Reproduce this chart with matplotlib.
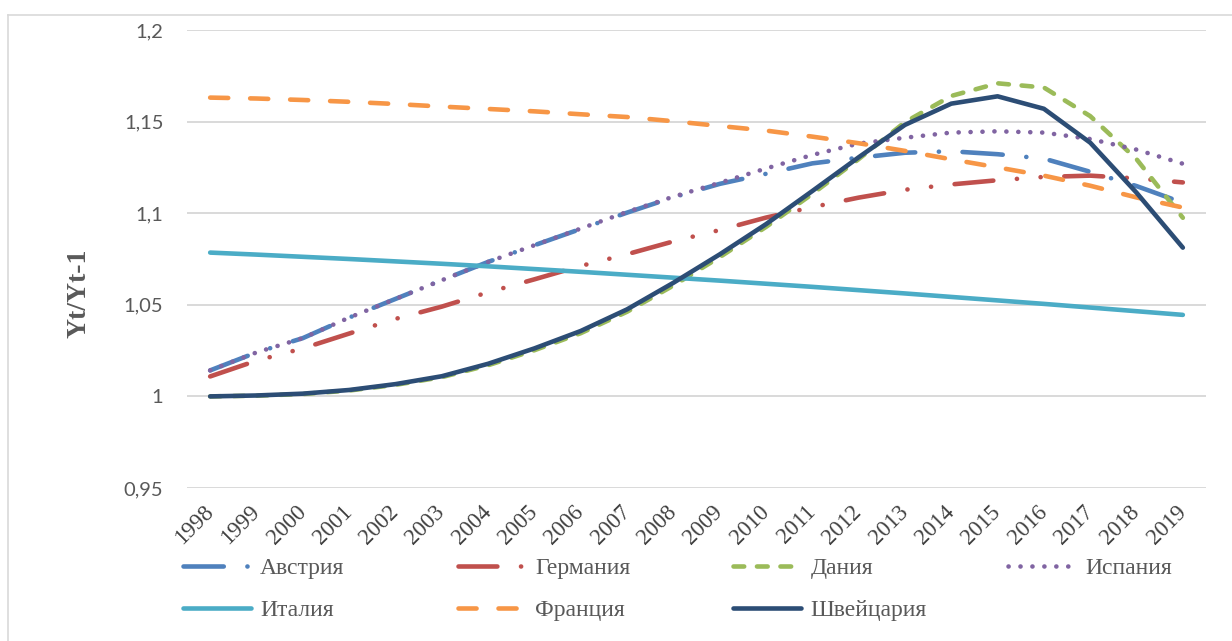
import matplotlib
matplotlib.use("Agg")
import matplotlib.pyplot as plt
from matplotlib.lines import Line2D

years = [str(y) for y in range(1998, 2020)]

austria = [1.0142, 1.0240, 1.0318, 1.0430, 1.0532, 1.0634, 1.0734, 1.0825,
           1.0914, 1.1003, 1.1087, 1.1160, 1.1215, 1.1272, 1.1303, 1.1330,
           1.1338, 1.1322, 1.1298, 1.1226, 1.1148, 1.1057]
germany = [1.0109, 1.0195, 1.0262, 1.0343, 1.0423, 1.0490, 1.0568, 1.0639,
           1.0712, 1.0776, 1.0846, 1.0908, 1.0976, 1.1033, 1.1085, 1.1128,
           1.1157, 1.1180, 1.1198, 1.1205, 1.1190, 1.1168]
denmark = [1.0000, 1.0004, 1.0013, 1.0032, 1.0063, 1.0105, 1.0170, 1.0252,
           1.0345, 1.0462, 1.0605, 1.0760, 1.0925, 1.1105, 1.1295, 1.1497,
           1.1640, 1.1709, 1.1686, 1.1530, 1.1295, 1.0975]
spain = [1.0142, 1.0240, 1.0318, 1.0430, 1.0532, 1.0634, 1.0734, 1.0825,
         1.0916, 1.1007, 1.1090, 1.1166, 1.1244, 1.1318, 1.1380, 1.1412,
         1.1440, 1.1447, 1.1440, 1.1405, 1.1347, 1.1270]
italy = [1.0785, 1.0774, 1.0762, 1.0750, 1.0737, 1.0724, 1.0710, 1.0695,
         1.0680, 1.0664, 1.0648, 1.0632, 1.0615, 1.0598, 1.0580, 1.0562,
         1.0543, 1.0524, 1.0505, 1.0485, 1.0465, 1.0445]
france = [1.1631, 1.1626, 1.1618, 1.1608, 1.1596, 1.1582, 1.1569, 1.1556,
          1.1540, 1.1525, 1.1502, 1.1476, 1.1451, 1.1418, 1.1382, 1.1340,
          1.1294, 1.1250, 1.1205, 1.1150, 1.1086, 1.1031]
switzerland = [1.0000, 1.0005, 1.0015, 1.0035, 1.0067, 1.0110, 1.0178, 1.0262,
               1.0357, 1.0475, 1.0620, 1.0775, 1.0940, 1.1121, 1.1305, 1.1482,
               1.1598, 1.1638, 1.1570, 1.1385, 1.1112, 1.0812]

names = ["Австрия", "Германия", "Дания", "Испания", "Италия", "Франция", "Швейцария"]
ytick_values = [0.95, 1.0, 1.05, 1.1, 1.15, 1.2]
ytick_labels = ["0,95", "1", "1,05", "1,1", "1,15", "1,2"]

plt.rcParams["lines.scale_dashes"] = False

LW = 3.3
series = [
    (austria, "#4F81BD", (0, (29, 17, 0.1, 17))),
    (germany, "#C0504D", (0, (28, 17, 0.1, 17, 0.1, 17))),
    (denmark, "#9BBB59", (0, (7.7, 9.2))),
    (spain, "#8064A2", (0, (0.1, 8.5))),
    (italy, "#4BACC6", "-"),
    (france, "#F79646", (0, (13, 15.8))),
    (switzerland, "#2C4D75", "-"),
]

W, H = 1232, 641
fig = plt.figure(figsize=(W / 100, H / 100), dpi=100)
ax = fig.add_axes([187 / W, 1 - 488 / H, 1019 / W, 458 / H])

x = list(range(len(years)))
lines = []
for (vals, color, ls), name in zip(series, names):
    ln, = ax.plot(x, vals, color=color, lw=LW, linestyle=ls,
                  solid_capstyle="round", dash_capstyle="round",
                  solid_joinstyle="round", label=name)
    lines.append(ln)

ax.set_xlim(-0.5, len(years) - 0.5)
ax.set_ylim(0.95, 1.2)
ax.set_yticks(ytick_values)
ax.set_yticklabels(ytick_labels, family="Lato", fontsize=14.5, color="#595959")
ax.grid(axis="y", color="#D9D9D9", lw=1.4)
ax.set_axisbelow(True)
for sp in ax.spines.values():
    sp.set_visible(False)
ax.tick_params(axis="y", length=0, pad=17)
ax.tick_params(axis="x", length=0, pad=15)

ax.set_xticks(x)
ax.set_xticklabels(years, rotation=45, ha="right", va="center",
                   rotation_mode="anchor", family="Liberation Serif",
                   fontsize=16.5, color="#404040")

fig.text(79 / W, 1 - 293 / H, "Yt/Yt-1", rotation=90, ha="center", va="center",
         family="Liberation Serif", fontweight="bold", fontsize=20,
         color="#595959")

# legend: one key per slot, four columns in two rows
FS = 17
col_x = [181, 456, 731, 1006]
row_y = [568, 610]
for i, ln in enumerate(lines):
    sx = col_x[i % 4]
    sy = row_y[i // 4]
    leg = fig.legend(handles=[ln], loc="center left",
                     bbox_to_anchor=((sx + LW * 100 / 72 / 2) / W, 1 - sy / H),
                     frameon=False, borderpad=0, borderaxespad=0,
                     handlelength=2.86, handletextpad=0.4,
                     prop={"family": "Liberation Serif", "size": FS})
    for t in leg.get_texts():
        t.set_color("#595959")

# chart frame
fig.add_artist(Line2D([8 / W, 8 / W], [0, 1 - 15 / H], transform=fig.transFigure,
                      color="#D9D9D9", lw=1.2))
fig.add_artist(Line2D([8 / W, 1], [1 - 15 / H, 1 - 15 / H], transform=fig.transFigure,
                      color="#D9D9D9", lw=1.2))

fig.savefig("out.png", dpi=100)
